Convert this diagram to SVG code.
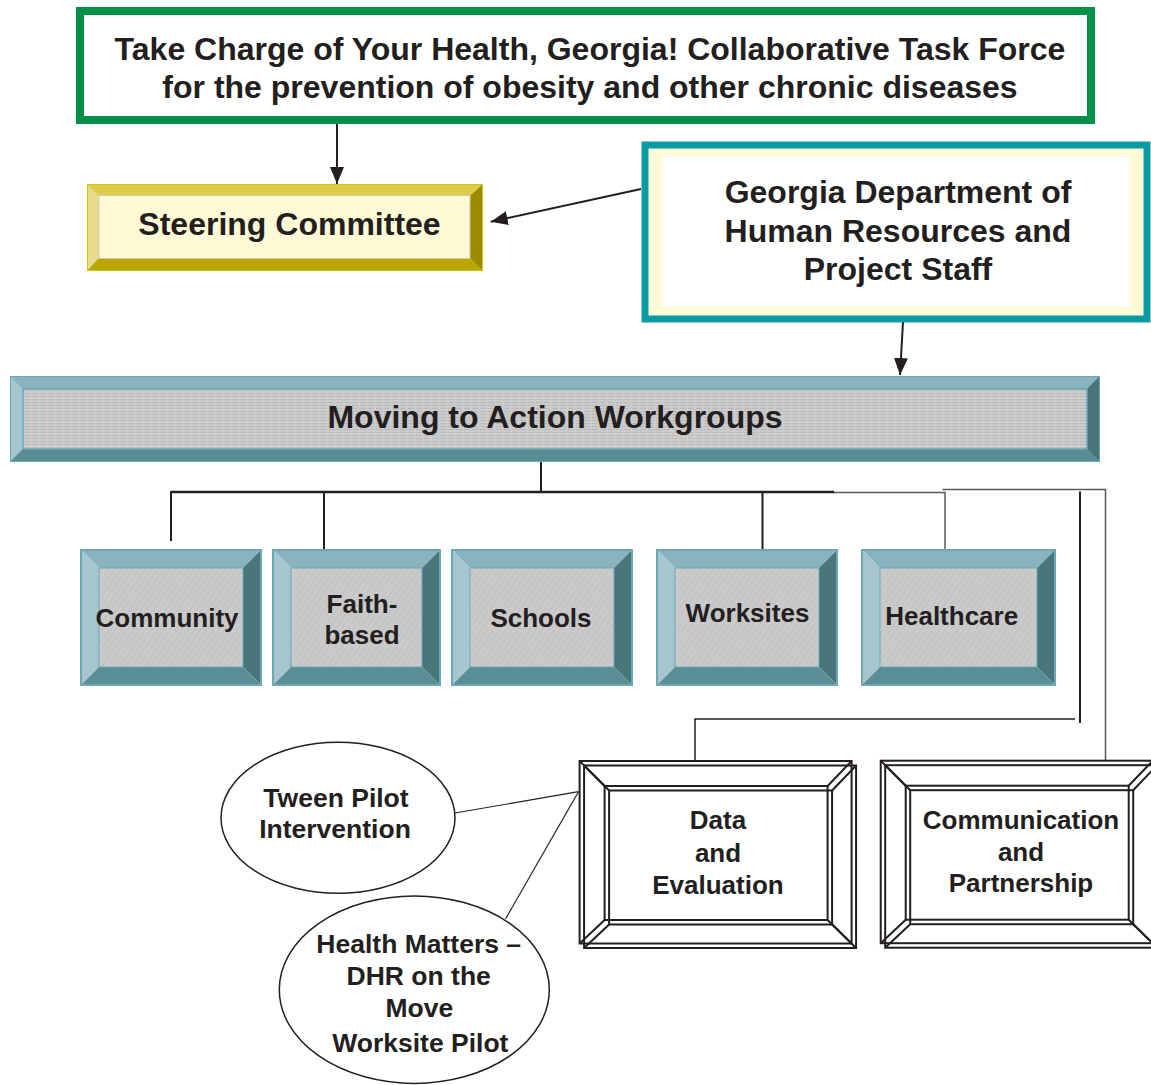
<svg xmlns="http://www.w3.org/2000/svg" xmlns:xlink="http://www.w3.org/1999/xlink" width="1151" height="1085" viewBox="0 0 1151 1085">
<defs>
<style>
text{font-family:"Liberation Sans",Arial,Helvetica,sans-serif;font-weight:bold;fill:#231f20;text-anchor:middle}
.t32{font-size:32px}
.t26{font-size:26px}
.t265{font-size:26.5px}
.ln{stroke:#231f20;fill:none}
.gl{stroke:#5a5a5a;fill:none;stroke-width:1.5}
.fr{fill:none;stroke:#231f20;stroke-width:2}
.bt{fill:#88b3bf}.bl{fill:#a5c6cf}.br{fill:#487679}.bb{fill:#5a8e96}
.bo{fill:none;stroke:#6aa8b8;stroke-width:2}
.st{fill:#dccd4c}.sl{fill:#e6dc8a}.sr{fill:#9c8b00}.sb{fill:#bba600}
</style>
<pattern id="diag" width="5" height="5" patternUnits="userSpaceOnUse" patternTransform="rotate(35)">
<rect width="5" height="5" fill="#cacaca"/>
<line x1="0" y1="0" x2="0" y2="5" stroke="#bcbcbc" stroke-width="1.2"/>
</pattern>
<pattern id="horiz" width="8" height="3" patternUnits="userSpaceOnUse">
<rect width="8" height="3" fill="#cbcbcb"/>
<line x1="0" y1="0.5" x2="6" y2="0.5" stroke="#bababa" stroke-width="1"/>
</pattern>
<marker id="ah" markerUnits="userSpaceOnUse" markerWidth="17" markerHeight="14" viewBox="0 0 17 14" refX="17" refY="7" orient="auto">
<path d="M0,0 L17,7 L0,14 z" fill="#231f20"/>
</marker>
<g id="frm">
<rect x="0" y="0" width="272" height="182.5"/>
<rect x="25" y="25" width="223" height="134"/>
<path d="M0,0 L25,25 M272,0 L248,25 M0,182.5 L25,159 M272,182.5 L248,159"/>
</g>
</defs>

<g id="connectors">
<line class="ln" x1="337" y1="124" x2="337" y2="184" stroke-width="2" marker-end="url(#ah)"/>
<line class="ln" x1="641" y1="189" x2="490.7" y2="221.7" stroke-width="2" marker-end="url(#ah)"/>
<line class="ln" x1="903" y1="322" x2="900" y2="375" stroke-width="2" marker-end="url(#ah)"/>
<line class="ln" x1="541" y1="455" x2="541" y2="492" stroke-width="2"/>
<line class="ln" x1="171" y1="492" x2="834" y2="492" stroke-width="2.6"/>
<line class="ln" x1="171" y1="491" x2="171" y2="541" stroke-width="2"/>
<path class="ln" d="M324,491 L324,550 L415,550" stroke-width="2"/>
<line class="ln" x1="762.5" y1="492" x2="762.5" y2="549" stroke-width="2"/>
<path class="gl" d="M834,492.5 L945,492.5 L945,549"/>
<path class="gl" d="M942.5,489.5 L1105.5,489.5 L1105.5,762"/>
<line class="ln" x1="1080" y1="491.5" x2="1080" y2="723" stroke-width="2"/>
<path class="ln" d="M1075,719 L695,719 L695,762" stroke-width="1.5"/>
<line class="ln" x1="455" y1="813" x2="578.5" y2="791.7" stroke-width="1.2"/>
<line class="ln" x1="578.5" y1="791.7" x2="505.5" y2="919" stroke-width="1.2"/>
</g>

<g id="task-force">
<rect x="80" y="11" width="1011" height="109" fill="#ffffff" stroke="#00904a" stroke-width="8"/>
<text class="t32" x="590" y="60">Take Charge of Your Health, Georgia! Collaborative Task Force</text>
<text class="t32" x="590" y="98">for the prevention of obesity and other chronic diseases</text>
</g>

<g id="steering">
<rect x="87" y="184" width="396" height="87" fill="#d6c600"/>
<polygon class="st" points="88,185 482,185 470,196 99,196"/>
<polygon class="sl" points="88,185 99,196 99,258 88,270"/>
<polygon class="sr" points="482,185 482,270 470,258 470,196"/>
<polygon class="sb" points="88,270 99,258 470,258 482,270"/>
<rect x="99" y="195.5" width="371" height="63" fill="#fffad5" stroke="#cfcab0" stroke-width="1"/>
<text class="t32" x="289.5" y="235">Steering Committee</text>
</g>

<g id="dhr">
<rect x="645" y="145" width="502" height="174" fill="#fffbd6" stroke="#0a9ba5" stroke-width="7"/>
<rect x="662" y="156" width="468" height="151" fill="#ffffff"/>
<text class="t32" x="898" y="203">Georgia Department of</text>
<text class="t32" x="898" y="241.5">Human Resources and</text>
<text class="t32" x="898" y="280">Project Staff</text>
</g>

<g id="moving">
<rect x="10" y="376" width="1090" height="86" fill="#6aa8b8"/>
<polygon class="bt" points="11,377 1099,377 1087,389 23,389"/>
<polygon class="bl" points="11,377 23,389 23,449 11,461"/>
<polygon class="br" points="1099,377 1099,461 1087,449 1087,389"/>
<polygon class="bb" points="11,461 23,449 1087,449 1099,461"/>
<rect x="23" y="389" width="1064" height="60" fill="url(#horiz)" stroke="#6aa8b8" stroke-width="1.5"/>
<text class="t32" x="555" y="428">Moving to Action Workgroups</text>
</g>

<g id="community">
<polygon class="bt" points="81,550 261,550 243,568 99,568"/>
<polygon class="bl" points="81,550 99,568 99,667 81,685"/>
<polygon class="br" points="261,550 261,685 243,667 243,568"/>
<polygon class="bb" points="81,685 99,667 243,667 261,685"/>
<rect x="99" y="568" width="144" height="99" fill="url(#diag)" stroke="#6aa8b8" stroke-width="1"/>
<rect class="bo" x="81" y="550" width="180" height="135"/>
<text class="t26" x="167" y="627">Community</text>
</g>

<g id="faith">
<polygon class="bt" points="273,550 440,550 422,568 291,568"/>
<polygon class="bl" points="273,550 291,568 291,667 273,685"/>
<polygon class="br" points="440,550 440,685 422,667 422,568"/>
<polygon class="bb" points="273,685 291,667 422,667 440,685"/>
<rect x="291" y="568" width="131" height="99" fill="url(#diag)" stroke="#6aa8b8" stroke-width="1"/>
<rect class="bo" x="273" y="550" width="167" height="135"/>
<text class="t26" x="362" y="613.3">Faith-</text>
<text class="t26" x="362" y="644.3">based</text>
</g>

<g id="schools">
<polygon class="bt" points="452,550 632,550 614,568 470,568"/>
<polygon class="bl" points="452,550 470,568 470,667 452,685"/>
<polygon class="br" points="632,550 632,685 614,667 614,568"/>
<polygon class="bb" points="452,685 470,667 614,667 632,685"/>
<rect x="470" y="568" width="144" height="99" fill="url(#diag)" stroke="#6aa8b8" stroke-width="1"/>
<rect class="bo" x="452" y="550" width="180" height="135"/>
<text class="t26" x="541" y="627">Schools</text>
</g>

<g id="worksites">
<polygon class="bt" points="657,550 837,550 819,568 675,568"/>
<polygon class="bl" points="657,550 675,568 675,667 657,685"/>
<polygon class="br" points="837,550 837,685 819,667 819,568"/>
<polygon class="bb" points="657,685 675,667 819,667 837,685"/>
<rect x="675" y="568" width="144" height="99" fill="url(#diag)" stroke="#6aa8b8" stroke-width="1"/>
<rect class="bo" x="657" y="550" width="180" height="135"/>
<text class="t26" x="747.5" y="622.3">Worksites</text>
</g>

<g id="healthcare">
<polygon class="bt" points="862,550 1055,550 1037,568 880,568"/>
<polygon class="bl" points="862,550 880,568 880,667 862,685"/>
<polygon class="br" points="1055,550 1055,685 1037,667 1037,568"/>
<polygon class="bb" points="862,685 880,667 1037,667 1055,685"/>
<rect x="880" y="568" width="157" height="99" fill="url(#diag)" stroke="#6aa8b8" stroke-width="1"/>
<rect class="bo" x="862" y="550" width="193" height="135"/>
<text class="t26" x="951.7" y="625">Healthcare</text>
</g>

<g id="data-eval">
<rect x="580" y="761" width="276" height="187" fill="#ffffff"/>
<use xlink:href="#frm" class="fr" transform="translate(579.6,761)"/>
<use xlink:href="#frm" class="fr" transform="translate(584.1,765.5)"/>
<text class="t26" x="718" y="829.3">Data</text>
<text class="t26" x="718" y="861.7">and</text>
<text class="t26" x="718" y="894">Evaluation</text>
</g>

<g id="comm-partner">
<rect x="881" y="761" width="276" height="187" fill="#ffffff"/>
<use xlink:href="#frm" class="fr" transform="translate(880.7,760.7)"/>
<use xlink:href="#frm" class="fr" transform="translate(885.2,765.2)"/>
<text class="t26" x="1021" y="829.3">Communication</text>
<text class="t26" x="1021" y="860.7">and</text>
<text class="t26" x="1021" y="891.7">Partnership</text>
</g>

<g id="tween">
<ellipse cx="338" cy="817.8" rx="117" ry="75.5" fill="#ffffff" stroke="#231f20" stroke-width="1.5"/>
<text class="t265" x="336" y="806.7">Tween Pilot</text>
<text class="t265" x="335" y="838.3">Intervention</text>
</g>

<g id="health-matters">
<ellipse cx="414.3" cy="989.7" rx="135" ry="93.7" fill="#ffffff" stroke="#231f20" stroke-width="1.5"/>
<text class="t265" x="418.7" y="953.3">Health Matters –</text>
<text class="t265" x="418.7" y="985">DHR on the</text>
<text class="t265" x="419.3" y="1016.7">Move</text>
<text class="t265" x="420.3" y="1051.7">Worksite Pilot</text>
</g>
</svg>
